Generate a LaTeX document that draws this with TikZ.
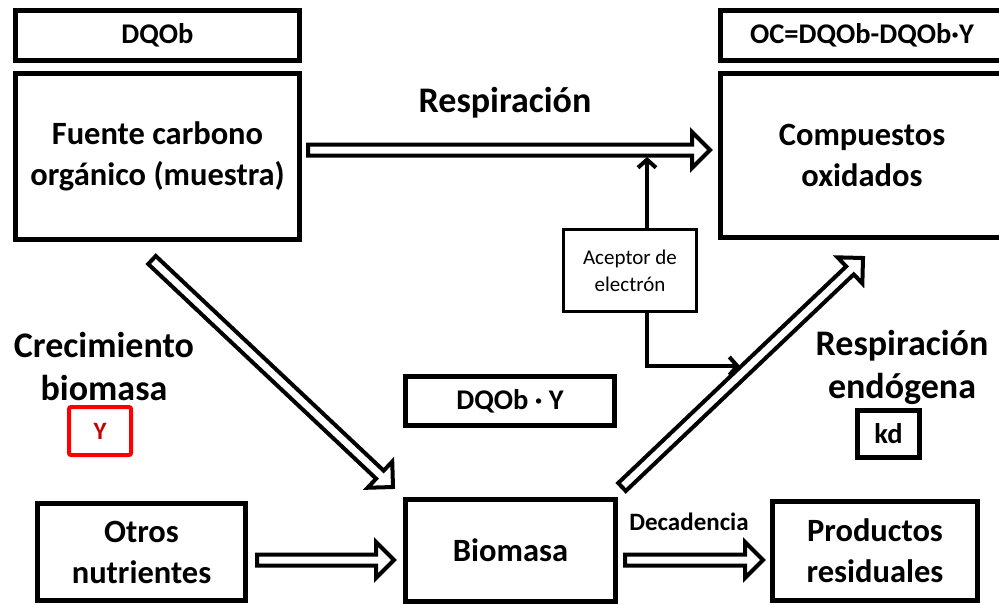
\documentclass[tikz,border=0pt]{standalone}
\usepackage{fontspec}
\setmainfont{Carlito}
\usetikzlibrary{calc,arrows.meta}
\newcommand{\blockarrow}[2]{%
  \coordinate (ba-h) at ($(#2)!18pt!(#1)$);
  \draw[blockarr] ($(#1)!5.5pt!90:(#2)$) -- ($(ba-h)!5.5pt!-90:(#1)$) -- ($(ba-h)!18pt!-90:(#1)$) -- (#2) -- ($(ba-h)!18pt!90:(#1)$) -- ($(ba-h)!5.5pt!90:(#1)$) -- ($(#1)!5.5pt!-90:(#2)$) -- cycle;}
\begin{document}
\begin{tikzpicture}[x=1pt,y=-1pt,
  bigbox/.style={draw, line width=5pt, inner sep=0pt, align=center, font=\fontsize{32.5}{41}\selectfont\bfseries},
  topbox/.style={draw, line width=5pt, inner sep=0pt, align=center, font=\fontsize{28.5}{34}\selectfont\bfseries},
  smallbox/.style={draw, line width=3pt, inner sep=0pt, align=center, font=\fontsize{21}{27}\selectfont},
  redbox/.style={draw=red, line width=4pt, rounded corners=2pt, inner sep=0pt, text=red!80!black, font=\fontsize{25}{30}\selectfont\bfseries},
  lbl/.style={align=center, inner sep=0pt, font=\fontsize{36}{43}\selectfont\bfseries},
  smalllbl/.style={inner sep=0pt, font=\fontsize{25}{28}\selectfont\bfseries},
  blockarr/.style={draw, line width=4pt, line join=miter, fill=white},
  conn/.style={line width=4pt, -{Straight Barb[length=8pt,width=18pt,line width=4pt]}}
]
\clip (0,0) rectangle (999,605);
\fill[white] (0,0) rectangle (999,605);

% boxes
\node[topbox, minimum width=284pt, minimum height=50pt] (dqob) at (157.5,35.5) {DQOb};
\node[bigbox, minimum width=284pt, minimum height=166pt] (fuente) at (157.5,156.5) {Fuente carbono\\orgánico (muestra)};
\node[topbox, minimum width=284pt, minimum height=50pt] (oc) at (862,35.5) {OC=DQOb-DQOb·Y};
\node[bigbox, minimum width=284pt, minimum height=164pt] (comp) at (862,155.5) {Compuestos\\oxidados};
\node[smallbox, minimum width=133pt, minimum height=82pt] (acep) at (630,270.5) {Aceptor de\\electrón};
\node[topbox, minimum width=209pt, minimum height=49pt] (dqoby) at (510,401) {DQOb · Y};
\node[bigbox, minimum width=210pt, minimum height=102pt] (bio) at (510.5,550) {Biomasa};
\node[bigbox, minimum width=208pt, minimum height=97pt] (otros) at (141.5,552) {Otros\\nutrientes};
\node[bigbox, minimum width=205pt, minimum height=99pt] (prod) at (875,551) {Productos\\residuales};
\node[redbox, minimum width=62pt, minimum height=48pt] (ybox) at (100,431) {Y};
\node[topbox, minimum width=62pt, minimum height=47pt] (kd) at (888.5,434) {kd};

% labels
\node[lbl] (lresp) at (505,103) {Respiración};
\node[lbl] (lcrec) at (104,366) {Crecimiento\\biomasa};
\node[lbl] (lendo) at (902,367.5) {Respiración\\endógena};
\node[smalllbl] (ldec) at (689,522) {Decadencia};

% block arrows
\coordinate (r1) at (308,150);
\coordinate (r2) at (710,150);
\coordinate (d1) at (152,260);
\coordinate (d2) at (393,487);
\coordinate (e1) at (622,487);
\coordinate (e2) at (863,258);
\coordinate (o1) at (257,560);
\coordinate (o2) at (394,560);
\coordinate (b1) at (625,560);
\coordinate (b2) at (763,560);
\blockarrow{r1}{r2}
\blockarrow{d1}{d2}
\blockarrow{e1}{e2}
\blockarrow{o1}{o2}
\blockarrow{b1}{b2}

% acceptor connectors
\coordinate (a1) at (647,157);
\coordinate (a2) at (740,366);
\draw[conn] (acep.north -| a1) -- (a1);
\draw[conn] (acep.south -| a1) |- (a2);
\end{tikzpicture}
\end{document}
